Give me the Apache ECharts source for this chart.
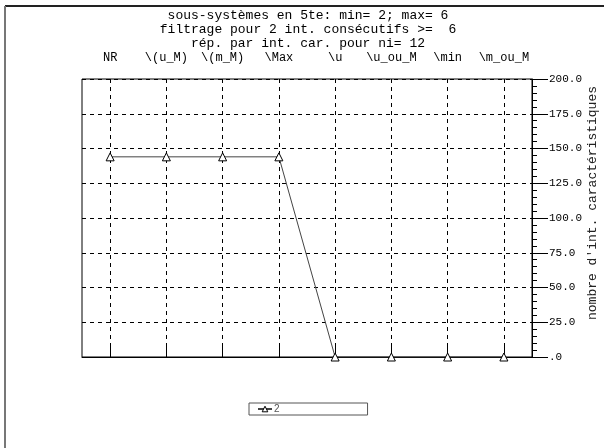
<!DOCTYPE html>
<html>
<head>
<meta charset="utf-8">
<script src="https://cdn.jsdelivr.net/npm/echarts@6/dist/echarts.min.js"></script>
<style>
html,body{margin:0;padding:0;background:#fff;}
#c{width:604px;height:448px;}
</style>
</head>
<body>
<div id="c"></div>
<script>
var categories = ['NR', '\\(u_M)', '\\(m_M)', '\\Max', '\\u', '\\u_ou_M', '\\min', '\\m_ou_M'];
var series2 = [144, 144, 144, 144, 0, 0, 0, 0];
var seriesName = '2';
var titleLines = [
  'sous-systèmes en 5te: min= 2; max= 6',
  'filtrage pour 2 int. consécutifs >=  6',
  'rép. par int. car. pour ni= 12'
];
var yName = "nombre d'int. caractéristiques";

var MONO = "'Liberation Mono', 'DejaVu Sans Mono', monospace";
var chart = echarts.init(document.getElementById('c'), null, {renderer: 'canvas'});
var titleGraphics = titleLines.map(function (t, i) {
  return {
    type: 'text', x: 308, y: 16 + i * 14,
    style: {text: t, font: '13px ' + MONO, fill: '#000', align: 'center', verticalAlign: 'middle'}
  };
});
chart.setOption({
  backgroundColor: '#fff',
  animation: false,
  graphic: [
    {type: 'line', shape: {x1: 5, y1: 6, x2: 604, y2: 6}, style: {stroke: '#222', lineWidth: 2}},
    {type: 'line', shape: {x1: 5, y1: 6, x2: 5, y2: 448}, style: {stroke: '#777', lineWidth: 2}}
  ].concat(titleGraphics),
  grid: {left: 82, right: 72, top: 79, bottom: 91, show: true, borderColor: '#000', borderWidth: 1,
    backgroundColor: 'transparent', containLabel: false, outerBoundsMode: 'none'},
  legend: {
    left: 249, top: 403,
    data: [seriesName],
    borderColor: '#555', borderWidth: 1,
    padding: [1, 88, 1, 8],
    itemWidth: 14, itemHeight: 7,
    itemStyle: {color: '#fff', borderColor: '#000', borderWidth: 1},
    textStyle: {fontFamily: 'Liberation Sans, Arial', fontSize: 10, color: '#555', padding: [0, 0, 6, -3]}
  },
  xAxis: {
    type: 'category', position: 'top', data: categories,
    axisLine: {show: true, lineStyle: {color: '#000', width: 1}},
    axisTick: {show: true, alignWithLabel: true, length: 14, lineStyle: {color: '#000'}},
    axisLabel: {fontFamily: MONO, fontSize: 12, color: '#000', margin: 15, interval: 0},
    splitLine: {show: true, alignWithLabel: true, lineStyle: {color: '#000', type: [4, 4], width: 1}}
  },
  yAxis: {
    type: 'value', position: 'right', min: 0, max: 200, interval: 25,
    name: yName, nameLocation: 'middle', nameRotate: 90, nameGap: 54, nameMoveOverlap: false,
    nameTextStyle: {fontFamily: MONO, fontSize: 13, color: '#222', padding: [0, 0, 0, 30]},
    axisLine: {show: true, lineStyle: {color: '#000', width: 1}},
    axisTick: {show: true, length: 16, lineStyle: {color: '#000'}},
    minorTick: {show: true, splitNumber: 5, length: 5, lineStyle: {color: '#000'}},
    axisLabel: {fontFamily: MONO, fontSize: 11, color: '#000', margin: 17,
      formatter: function (v) { return v === 0 ? '.0' : v.toFixed(1); }},
    splitLine: {show: true, lineStyle: {color: '#000', type: [4, 4], width: 1}}
  },
  series: [{
    name: seriesName, type: 'line', data: series2,
    symbol: 'triangle', symbolSize: 8,
    lineStyle: {color: '#444', width: 1},
    itemStyle: {color: '#fff', borderColor: '#000', borderWidth: 1}
  }]
});
</script>
</body>
</html>
